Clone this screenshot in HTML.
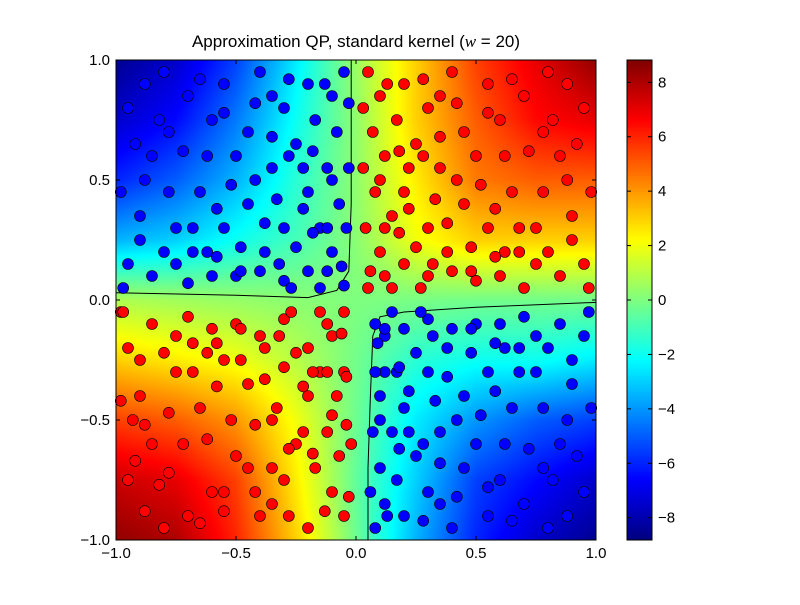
<!DOCTYPE html>
<html><head><meta charset="utf-8"><style>
body{margin:0;background:#fff;width:800px;height:600px;overflow:hidden;font-family:"Liberation Sans","DejaVu Sans",sans-serif}
</style></head><body>
<svg id="chart" width="800" height="600" xmlns="http://www.w3.org/2000/svg">
<rect width="800" height="600" fill="#fff"/>
<text x="356" y="47" font-size="17" text-anchor="middle" font-family="Liberation Sans, sans-serif">Approximation QP, standard kernel (<tspan font-style="italic" font-family="Liberation Serif, serif">w</tspan> = 20)</text>
<foreignObject x="116" y="60" width="480" height="480"><canvas xmlns="http://www.w3.org/1999/xhtml" id="hm" width="480" height="480"></canvas></foreignObject>
<g id="contours"></g>
<g id="dots"></g>
<rect x="116" y="60" width="480" height="480" fill="none" stroke="#000" stroke-width="1"/>
<g id="axes"></g>
<foreignObject x="627" y="60" width="25" height="480"><canvas xmlns="http://www.w3.org/1999/xhtml" id="cb" width="25" height="480"></canvas></foreignObject>
<rect x="627" y="60" width="25" height="480" fill="none" stroke="#000"/>
<g id="cbaxis"></g>
</svg>
<script>
const gridX=[-1,-0.75,-0.5,-0.25,0,0.25,0.5,0.75,1];
const gridY=[1,0.75,0.5,0.25,0,-0.25,-0.5,-0.75,-1];
const gridVals=[
[-8.5,-7.5,-5.5,-2.5,0.5,3,5.5,7,8.5],
[-7.5,-6.5,-4.5,-2,0.3,3,5,6.5,7],
[-6,-5,-3.5,-1.5,0.3,2.5,4.5,5,5],
[-3.5,-3,-2,-1,0.2,2,3,3,3],
[0.8,0.6,0.4,0.2,0,-0.1,-0.2,-0.2,-0.2],
[3,2.5,2,1,-0.2,-1.5,-2,-2,-2.5],
[5.5,5,4,2,-0.3,-2.5,-4,-5,-5.5],
[7.5,7,5.5,2.5,-0.5,-3,-5.5,-6.5,-7.5],
[8.5,8,6,3,-0.3,-3.5,-6,-7.5,-8.5]];
const xTicks=[-1,-0.5,0,0.5,1];
const xTickLabels=["\u22121.0","\u22120.5","0.0","0.5","1.0"];
const yTicks=[1,0.5,0,-0.5,-1];
const yTickLabels=["1.0","0.5","0.0","\u22120.5","\u22121.0"];
const cbTicks=[8,6,4,2,0,-2,-4,-6,-8];
const cbTickLabels=["8","6","4","2","0","\u22122","\u22124","\u22126","\u22128"];
const vMin=-8.82, vMax=8.82;
const contourA=[[-1,0.03],[-0.5,0.02],[-0.2,0.01],[-0.08,0.04],[-0.03,0.12],[-0.02,0.4],[-0.02,0.7],[-0.02,1]];
const contourB=[[1,-0.01],[0.5,-0.03],[0.2,-0.05],[0.1,-0.07],[0.07,-0.15],[0.06,-0.4],[0.05,-0.7],[0.05,-1]];
const redX=[0.05,0.1,0.07,0.12,0.08,0.15,0.1,0.2,0.3,0.4,0.5,0.6,0.7,0.85,0.95,0.2,0.3,0.25,0.35,0.2,0.3,0.45,0.55,0.65,0.75,0.9,0.5,0.6,0.7,0.85,0.95,0.4,0.45,0.8,0.17,0.25,0.38,0.15,0.22,0.33,0.48,0.62,0.8,0.12,0.27,
-0.05,-0.1,-0.07,-0.12,-0.08,-0.15,-0.1,-0.2,-0.3,-0.4,-0.5,-0.6,-0.7,-0.85,-0.95,-0.2,-0.3,-0.25,-0.35,-0.2,-0.3,-0.45,-0.55,-0.65,-0.75,-0.9,-0.5,-0.6,-0.7,-0.85,-0.95,-0.4,-0.45,-0.8,-0.17,-0.25,-0.38,-0.15,-0.22,-0.33,-0.48,-0.62,-0.8,-0.12,-0.27,-0.02,-0.05,-0.93,-0.98];
const redY=[0.95,0.85,0.7,0.6,0.45,0.35,0.2,0.15,0.1,0.12,0.08,0.1,0.05,0.1,0.15,0.9,0.8,0.65,0.55,0.45,0.3,0.4,0.3,0.45,0.3,0.35,0.6,0.75,0.85,0.6,0.8,0.95,0.7,0.95,0.75,0.22,0.2,0.05,0.55,0.42,0.22,0.2,0.2,0.3,0.05,
-0.9,-0.8,-0.65,-0.55,-0.4,-0.3,-0.15,-0.2,-0.08,-0.15,-0.1,-0.12,-0.07,-0.1,-0.2,-0.95,-0.75,-0.6,-0.5,-0.4,-0.28,-0.35,-0.25,-0.45,-0.3,-0.4,-0.65,-0.8,-0.9,-0.6,-0.75,-0.9,-0.7,-0.95,-0.7,-0.22,-0.2,-0.05,-0.55,-0.45,-0.25,-0.22,-0.22,-0.3,-0.05,-0.6,-0.3,-0.5,-0.05];
const blueX=[-0.05,-0.1,-0.08,-0.12,-0.07,-0.15,-0.1,-0.2,-0.3,-0.4,-0.5,-0.6,-0.7,-0.85,-0.95,-0.2,-0.3,-0.25,-0.35,-0.2,-0.3,-0.45,-0.55,-0.65,-0.75,-0.9,-0.5,-0.6,-0.7,-0.85,-0.95,-0.4,-0.45,-0.8,-0.17,-0.25,-0.38,-0.15,-0.22,-0.33,-0.48,-0.62,-0.8,-0.12,-0.27,
0.08,0.12,0.1,0.15,0.1,0.17,0.12,0.2,0.3,0.4,0.5,0.6,0.7,0.85,0.95,0.2,0.3,0.25,0.35,0.2,0.3,0.45,0.55,0.65,0.75,0.9,0.5,0.6,0.7,0.85,0.95,0.4,0.45,0.8,0.17,0.25,0.38,0.15,0.22,0.33,0.48,0.62,0.8,0.12,0.27];
const blueY=[0.95,0.85,0.7,0.55,0.4,0.3,0.2,0.12,0.08,0.12,0.1,0.1,0.07,0.1,0.15,0.9,0.8,0.65,0.55,0.45,0.3,0.4,0.3,0.45,0.3,0.35,0.6,0.75,0.85,0.6,0.8,0.95,0.7,0.95,0.75,0.22,0.2,0.05,0.55,0.42,0.22,0.2,0.2,0.3,0.05,
-0.95,-0.85,-0.7,-0.55,-0.4,-0.3,-0.15,-0.12,-0.08,-0.12,-0.1,-0.1,-0.07,-0.1,-0.15,-0.9,-0.8,-0.65,-0.55,-0.45,-0.3,-0.4,-0.3,-0.45,-0.3,-0.35,-0.6,-0.75,-0.85,-0.6,-0.8,-0.95,-0.7,-0.95,-0.75,-0.22,-0.2,-0.05,-0.55,-0.42,-0.22,-0.2,-0.2,-0.3,-0.05];
const redX2=[0.03,0.03,0.04,0.06,0.05,0.1,0.13,0.18,0.22,0.28,0.35,0.42,0.52,0.58,0.68,0.78,0.88,0.92,0.98,0.97,0.88,0.78,0.72,0.62,0.55,0.42,0.35,0.28,0.18,0.12,0.38,0.48,0.58,0.68,0.75,0.82,0.9,0.65,0.55,0.32,
-0.03,-0.04,-0.04,-0.06,-0.05,-0.1,-0.13,-0.18,-0.22,-0.28,-0.35,-0.42,-0.52,-0.58,-0.68,-0.78,-0.88,-0.92,-0.98,-0.97,-0.88,-0.78,-0.72,-0.62,-0.55,-0.42,-0.35,-0.28,-0.18,-0.12,-0.38,-0.48,-0.58,-0.68,-0.75,-0.82,-0.9,-0.65,-0.55,-0.32];
const redY2=[0.8,0.55,0.3,0.12,0.05,0.5,0.9,0.28,0.38,0.6,0.85,0.5,0.48,0.38,0.2,0.45,0.5,0.65,0.45,0.05,0.9,0.7,0.62,0.6,0.9,0.82,0.68,0.92,0.62,0.1,0.32,0.12,0.18,0.3,0.15,0.75,0.25,0.92,0.78,0.15,
-0.82,-0.52,-0.32,-0.14,-0.05,-0.48,-0.88,-0.3,-0.36,-0.62,-0.85,-0.52,-0.5,-0.36,-0.18,-0.47,-0.52,-0.67,-0.42,-0.05,-0.88,-0.72,-0.6,-0.58,-0.88,-0.8,-0.7,-0.9,-0.64,-0.1,-0.33,-0.12,-0.18,-0.3,-0.15,-0.77,-0.25,-0.93,-0.8,-0.15];
const blueX2=[-0.03,-0.03,-0.04,-0.06,-0.05,-0.1,-0.13,-0.18,-0.22,-0.28,-0.35,-0.42,-0.52,-0.58,-0.68,-0.78,-0.88,-0.92,-0.98,-0.97,-0.88,-0.78,-0.72,-0.62,-0.55,-0.42,-0.35,-0.28,-0.18,-0.12,-0.38,-0.48,-0.58,-0.68,-0.75,-0.82,-0.9,-0.65,-0.55,-0.32,
0.06,0.07,0.08,0.09,0.08,0.1,0.13,0.18,0.22,0.28,0.35,0.42,0.52,0.58,0.68,0.78,0.88,0.92,0.98,0.97,0.88,0.78,0.72,0.62,0.55,0.42,0.35,0.28,0.18,0.12,0.38,0.48,0.58,0.68,0.75,0.82,0.9,0.65,0.55,0.32];
const blueY2=[0.82,0.55,0.3,0.14,0.06,0.5,0.9,0.28,0.38,0.6,0.85,0.5,0.48,0.38,0.2,0.45,0.5,0.65,0.45,0.05,0.9,0.7,0.62,0.6,0.9,0.82,0.68,0.92,0.62,0.12,0.32,0.12,0.18,0.3,0.15,0.75,0.25,0.92,0.78,0.15,
-0.8,-0.55,-0.3,-0.18,-0.1,-0.5,-0.9,-0.28,-0.38,-0.6,-0.85,-0.5,-0.48,-0.38,-0.2,-0.45,-0.5,-0.65,-0.45,-0.05,-0.9,-0.7,-0.62,-0.6,-0.9,-0.82,-0.68,-0.92,-0.62,-0.12,-0.32,-0.12,-0.18,-0.3,-0.15,-0.75,-0.25,-0.92,-0.78,-0.15];

const NS="http://www.w3.org/2000/svg";
const PX0=116,PY0=60,PW=480,PH=480;
function sx(x){return PX0+(x+1)/2*PW;}
function sy(y){return PY0+(1-y)/2*PH;}
function cy(v){return 60+(vMax-v)/(vMax-vMin)*480;}
function jet(t){t=Math.max(0,Math.min(1,t));
 const r=Math.max(0,Math.min(1,Math.min(4*t-1.5,-4*t+4.5)));
 const g=Math.max(0,Math.min(1,Math.min(4*t-0.5,-4*t+3.5)));
 const b=Math.max(0,Math.min(1,Math.min(4*t+0.5,-4*t+2.5)));
 return [r*255|0,g*255|0,b*255|0];}
function interp(x,y){
 const fx=(x+1)/0.25, fy=(1-y)/0.25;
 let i=Math.min(7,Math.floor(fx)), j=Math.min(7,Math.floor(fy));
 const u=fx-i,v=fy-j;
 return gridVals[j][i]*(1-u)*(1-v)+gridVals[j][i+1]*u*(1-v)+gridVals[j+1][i]*(1-u)*v+gridVals[j+1][i+1]*u*v;}
(function(){
 const c=document.getElementById('hm').getContext('2d');const im=c.createImageData(480,480);
 for(let py=0;py<480;py++)for(let px=0;px<480;px++){
  const x=-1+(px+0.5)/240,y=1-(py+0.5)/240;
  const col=jet((interp(x,y)-vMin)/(vMax-vMin));const k=(py*480+px)*4;
  im.data[k]=col[0];im.data[k+1]=col[1];im.data[k+2]=col[2];im.data[k+3]=255;}
 c.putImageData(im,0,0);
 const cb=document.getElementById('cb').getContext('2d');
 for(let py=0;py<480;py++){const col=jet(1-(py+0.5)/480);cb.fillStyle=`rgb(${col})`;cb.fillRect(0,py,25,1);}
})();
const cg=document.getElementById('contours');
[contourA,contourB].forEach(function(cpts){
 const p=document.createElementNS(NS,'polyline');
 p.setAttribute('points',cpts.map(q=>sx(q[0])+','+sy(q[1])).join(' '));
 p.setAttribute('fill','none');p.setAttribute('stroke','#000');p.setAttribute('stroke-width','1');
 
 
 cg.appendChild(p);});
const dg=document.getElementById('dots');
function dot(x,y,fill){const c=document.createElementNS(NS,'circle');
 c.setAttribute('cx',sx(x));c.setAttribute('cy',sy(y));c.setAttribute('r',5.5);
 c.setAttribute('fill',fill);c.setAttribute('stroke','#000');c.setAttribute('stroke-width','0.6');
 
 
 dg.appendChild(c);}
redX.forEach((x,i)=>dot(x,redY[i],'#ff0000'));
redX2.forEach((x,i)=>dot(x,redY2[i],'#ff0000'));
blueX.forEach((x,i)=>dot(x,blueY[i],'#0000ff'));
blueX2.forEach((x,i)=>dot(x,blueY2[i],'#0000ff'));
const ag=document.getElementById('axes');
function ln(x1,y1,x2,y2,g){const l=document.createElementNS(NS,'line');
 l.setAttribute('x1',x1);l.setAttribute('y1',y1);l.setAttribute('x2',x2);l.setAttribute('y2',y2);l.setAttribute('stroke','#000');
 
 
 g.appendChild(l);}
function tx(x,y,s,anchor,g,name){const t=document.createElementNS(NS,'text');
 t.setAttribute('x',x);t.setAttribute('y',y);t.setAttribute('font-size','15');t.setAttribute('text-anchor',anchor);t.textContent=s;
 
 
 g.appendChild(t);}
xTicks.forEach((v,i)=>{const X=sx(v);ln(X,540,X,536,ag);ln(X,60,X,64,ag);tx(X,558,xTickLabels[i],'middle',ag,'x-tick-label');});
yTicks.forEach((v,i)=>{const Y=sy(v);ln(116,Y,120,Y,ag);ln(596,Y,592,Y,ag);tx(110,Y+5,yTickLabels[i],'end',ag,'y-tick-label');});
const cga=document.getElementById('cbaxis');
cbTicks.forEach((v,i)=>{const Y=cy(v);ln(652,Y,648,Y,cga);ln(627,Y,631,Y,cga);tx(658,Y+5,cbTickLabels[i],'start',cga,'colorbar-tick-label');});
</script>
</body></html>
